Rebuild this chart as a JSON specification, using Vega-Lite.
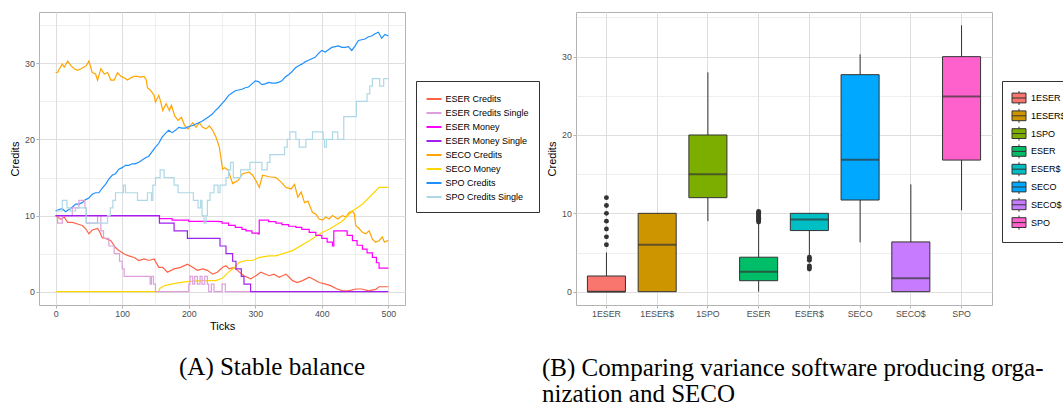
{
  "$schema": "https://vega.github.io/schema/vega-lite/v6.json",
  "padding": {"left": 8, "top": 11, "right": 0, "bottom": 0},
  "background": "white",
  "config": {
    "font": "Liberation Sans",
    "view": {"stroke": "#B3B3B3", "strokeWidth": 1},
    "axis": {"domain": false, "labelColor": "#4D4D4D", "labelFontSize": 8.8, "labelFont": "Liberation Sans", "titleFont": "Liberation Sans", "titleFontSize": 11, "titleFontWeight": "normal", "titleColor": "#000000", "tickColor": "#B3B3B3", "tickSize": 3, "gridColor": "#DEDEDE", "labelPadding": 1.7},
    "legend": {"labelFont": "Liberation Sans", "labelFontSize": 9, "labelColor": "#000000", "padding": 9.5, "strokeColor": "#333333", "fillColor": "#FFFFFF"},
    "title": {"font": "Liberation Serif", "fontSize": 25, "fontWeight": "normal", "color": "#000000", "anchor": "start", "orient": "bottom", "frame": "group", "baseline": "alphabetic", "lineHeight": 26}
  },
  "datasets": {
    "lines": [
      {"series":"ESER Credits","tick":0,"credits":10},{"series":"ESER Credits","tick":3,"credits":9.8},{"series":"ESER Credits","tick":8,"credits":9.5},{"series":"ESER Credits","tick":13,"credits":9.8},{"series":"ESER Credits","tick":18,"credits":9.1},{"series":"ESER Credits","tick":25,"credits":9.1},{"series":"ESER Credits","tick":33,"credits":8.9},{"series":"ESER Credits","tick":40,"credits":8.7},{"series":"ESER Credits","tick":45,"credits":8.3},{"series":"ESER Credits","tick":50,"credits":7.6},{"series":"ESER Credits","tick":55,"credits":8.1},{"series":"ESER Credits","tick":63,"credits":8.3},{"series":"ESER Credits","tick":66,"credits":7.9},{"series":"ESER Credits","tick":70,"credits":7.1},{"series":"ESER Credits","tick":78,"credits":6.9},{"series":"ESER Credits","tick":83,"credits":6.7},{"series":"ESER Credits","tick":90,"credits":5.8},{"series":"ESER Credits","tick":95,"credits":5.4},{"series":"ESER Credits","tick":103,"credits":4.95},{"series":"ESER Credits","tick":110,"credits":4.7},{"series":"ESER Credits","tick":118,"credits":4.5},{"series":"ESER Credits","tick":125,"credits":4.1},{"series":"ESER Credits","tick":133,"credits":4.3},{"series":"ESER Credits","tick":140,"credits":4.1},{"series":"ESER Credits","tick":148,"credits":4.3},{"series":"ESER Credits","tick":155,"credits":3.2},{"series":"ESER Credits","tick":161,"credits":3.2},{"series":"ESER Credits","tick":168,"credits":2.55},{"series":"ESER Credits","tick":178,"credits":3.0},{"series":"ESER Credits","tick":188,"credits":3.2},{"series":"ESER Credits","tick":198,"credits":3.6},{"series":"ESER Credits","tick":206,"credits":3.2},{"series":"ESER Credits","tick":213,"credits":2.8},{"series":"ESER Credits","tick":221,"credits":3.0},{"series":"ESER Credits","tick":228,"credits":2.8},{"series":"ESER Credits","tick":236,"credits":2.3},{"series":"ESER Credits","tick":243,"credits":2.55},{"series":"ESER Credits","tick":251,"credits":3.2},{"series":"ESER Credits","tick":256,"credits":3.4},{"series":"ESER Credits","tick":261,"credits":3.0},{"series":"ESER Credits","tick":268,"credits":3.2},{"series":"ESER Credits","tick":273,"credits":2.8},{"series":"ESER Credits","tick":283,"credits":2.1},{"series":"ESER Credits","tick":293,"credits":1.7},{"series":"ESER Credits","tick":301,"credits":2.1},{"series":"ESER Credits","tick":308,"credits":2.55},{"series":"ESER Credits","tick":321,"credits":2.1},{"series":"ESER Credits","tick":328,"credits":2.3},{"series":"ESER Credits","tick":336,"credits":1.9},{"series":"ESER Credits","tick":341,"credits":2.1},{"series":"ESER Credits","tick":346,"credits":2.3},{"series":"ESER Credits","tick":351,"credits":1.9},{"series":"ESER Credits","tick":356,"credits":1.45},{"series":"ESER Credits","tick":363,"credits":1.2},{"series":"ESER Credits","tick":371,"credits":1.45},{"series":"ESER Credits","tick":381,"credits":1.9},{"series":"ESER Credits","tick":386,"credits":1.7},{"series":"ESER Credits","tick":396,"credits":1.2},{"series":"ESER Credits","tick":406,"credits":1.0},{"series":"ESER Credits","tick":413,"credits":0.8},{"series":"ESER Credits","tick":423,"credits":0.35},{"series":"ESER Credits","tick":431,"credits":0.15},{"series":"ESER Credits","tick":440,"credits":0.1},{"series":"ESER Credits","tick":451,"credits":0.35},{"series":"ESER Credits","tick":460,"credits":0.35},{"series":"ESER Credits","tick":470,"credits":0.1},{"series":"ESER Credits","tick":481,"credits":0.3},{"series":"ESER Credits","tick":486,"credits":0.65},{"series":"ESER Credits","tick":500,"credits":0.65},

      {"series":"ESER Credits Single","tick":0,"credits":10},{"series":"ESER Credits Single","tick":3,"credits":9},{"series":"ESER Credits Single","tick":10,"credits":10},{"series":"ESER Credits Single","tick":25,"credits":11},{"series":"ESER Credits Single","tick":35,"credits":12},{"series":"ESER Credits Single","tick":44,"credits":11},{"series":"ESER Credits Single","tick":46,"credits":9},{"series":"ESER Credits Single","tick":63,"credits":10},{"series":"ESER Credits Single","tick":68,"credits":8},{"series":"ESER Credits Single","tick":72,"credits":7},{"series":"ESER Credits Single","tick":80,"credits":6},{"series":"ESER Credits Single","tick":88,"credits":5},{"series":"ESER Credits Single","tick":96,"credits":4},{"series":"ESER Credits Single","tick":100,"credits":3},{"series":"ESER Credits Single","tick":103,"credits":2},{"series":"ESER Credits Single","tick":140,"credits":2},{"series":"ESER Credits Single","tick":142,"credits":1},{"series":"ESER Credits Single","tick":144,"credits":2},{"series":"ESER Credits Single","tick":147,"credits":1},{"series":"ESER Credits Single","tick":150,"credits":0},{"series":"ESER Credits Single","tick":200,"credits":1},{"series":"ESER Credits Single","tick":202,"credits":2},{"series":"ESER Credits Single","tick":206,"credits":1},{"series":"ESER Credits Single","tick":209,"credits":2},{"series":"ESER Credits Single","tick":213,"credits":1},{"series":"ESER Credits Single","tick":217,"credits":2},{"series":"ESER Credits Single","tick":220,"credits":1},{"series":"ESER Credits Single","tick":224,"credits":2},{"series":"ESER Credits Single","tick":228,"credits":1},{"series":"ESER Credits Single","tick":230,"credits":0},{"series":"ESER Credits Single","tick":234,"credits":1},{"series":"ESER Credits Single","tick":238,"credits":0},{"series":"ESER Credits Single","tick":250,"credits":1},{"series":"ESER Credits Single","tick":255,"credits":0},{"series":"ESER Credits Single","tick":500,"credits":0},

      {"series":"ESER Money","tick":0,"credits":10},{"series":"ESER Money","tick":156,"credits":9.6},{"series":"ESER Money","tick":175,"credits":9.4},{"series":"ESER Money","tick":200,"credits":9.25},{"series":"ESER Money","tick":245,"credits":9.2},{"series":"ESER Money","tick":250,"credits":9.0},{"series":"ESER Money","tick":260,"credits":8.7},{"series":"ESER Money","tick":270,"credits":8.45},{"series":"ESER Money","tick":280,"credits":8.2},{"series":"ESER Money","tick":286,"credits":8.0},{"series":"ESER Money","tick":295,"credits":7.7},{"series":"ESER Money","tick":304,"credits":7.6},{"series":"ESER Money","tick":306,"credits":9.4},{"series":"ESER Money","tick":320,"credits":9.2},{"series":"ESER Money","tick":331,"credits":9.0},{"series":"ESER Money","tick":340,"credits":8.8},{"series":"ESER Money","tick":350,"credits":8.6},{"series":"ESER Money","tick":361,"credits":8.45},{"series":"ESER Money","tick":370,"credits":8.2},{"series":"ESER Money","tick":381,"credits":7.8},{"series":"ESER Money","tick":391,"credits":7.4},{"series":"ESER Money","tick":400,"credits":7.0},{"series":"ESER Money","tick":408,"credits":6.5},{"series":"ESER Money","tick":416,"credits":6.0},{"series":"ESER Money","tick":418,"credits":8.0},{"series":"ESER Money","tick":431,"credits":8.0},{"series":"ESER Money","tick":438,"credits":7.4},{"series":"ESER Money","tick":446,"credits":6.7},{"series":"ESER Money","tick":453,"credits":6.1},{"series":"ESER Money","tick":461,"credits":5.6},{"series":"ESER Money","tick":468,"credits":5.1},{"series":"ESER Money","tick":476,"credits":4.5},{"series":"ESER Money","tick":482,"credits":3.8},{"series":"ESER Money","tick":486,"credits":3.1},{"series":"ESER Money","tick":500,"credits":3.1},

      {"series":"ESER Money Single","tick":0,"credits":10},{"series":"ESER Money Single","tick":156,"credits":9},{"series":"ESER Money Single","tick":178,"credits":8},{"series":"ESER Money Single","tick":198,"credits":7},{"series":"ESER Money Single","tick":247,"credits":6},{"series":"ESER Money Single","tick":256,"credits":5},{"series":"ESER Money Single","tick":266,"credits":4},{"series":"ESER Money Single","tick":271,"credits":3},{"series":"ESER Money Single","tick":279,"credits":2},{"series":"ESER Money Single","tick":283,"credits":1},{"series":"ESER Money Single","tick":293,"credits":0},{"series":"ESER Money Single","tick":500,"credits":0},

      {"series":"SECO Credits","tick":0,"credits":28.8},{"series":"SECO Credits","tick":3,"credits":28.8},{"series":"SECO Credits","tick":5,"credits":29.2},{"series":"SECO Credits","tick":10,"credits":29.9},{"series":"SECO Credits","tick":13,"credits":29.5},{"series":"SECO Credits","tick":18,"credits":30.3},{"series":"SECO Credits","tick":23,"credits":29.7},{"series":"SECO Credits","tick":28,"credits":29.3},{"series":"SECO Credits","tick":33,"credits":29.1},{"series":"SECO Credits","tick":38,"credits":29.3},{"series":"SECO Credits","tick":42,"credits":29.5},{"series":"SECO Credits","tick":46,"credits":29.7},{"series":"SECO Credits","tick":50,"credits":30.3},{"series":"SECO Credits","tick":55,"credits":28.8},{"series":"SECO Credits","tick":60,"credits":28.6},{"series":"SECO Credits","tick":63,"credits":27.8},{"series":"SECO Credits","tick":68,"credits":29.3},{"series":"SECO Credits","tick":73,"credits":28.6},{"series":"SECO Credits","tick":78,"credits":28.8},{"series":"SECO Credits","tick":83,"credits":27.8},{"series":"SECO Credits","tick":88,"credits":27.8},{"series":"SECO Credits","tick":93,"credits":28.8},{"series":"SECO Credits","tick":98,"credits":28.3},{"series":"SECO Credits","tick":103,"credits":28.1},{"series":"SECO Credits","tick":108,"credits":27.8},{"series":"SECO Credits","tick":113,"credits":28.1},{"series":"SECO Credits","tick":118,"credits":28.3},{"series":"SECO Credits","tick":123,"credits":28.3},{"series":"SECO Credits","tick":128,"credits":28.2},{"series":"SECO Credits","tick":133,"credits":28.3},{"series":"SECO Credits","tick":136,"credits":27.9},{"series":"SECO Credits","tick":138,"credits":26.8},{"series":"SECO Credits","tick":143,"credits":26.4},{"series":"SECO Credits","tick":148,"credits":25.8},{"series":"SECO Credits","tick":150,"credits":24.9},{"series":"SECO Credits","tick":155,"credits":25.8},{"series":"SECO Credits","tick":158,"credits":24.9},{"series":"SECO Credits","tick":161,"credits":23.8},{"series":"SECO Credits","tick":166,"credits":24.7},{"series":"SECO Credits","tick":171,"credits":23.8},{"series":"SECO Credits","tick":174,"credits":24.5},{"series":"SECO Credits","tick":179,"credits":23.1},{"series":"SECO Credits","tick":184,"credits":22.5},{"series":"SECO Credits","tick":189,"credits":22.9},{"series":"SECO Credits","tick":194,"credits":21.8},{"series":"SECO Credits","tick":199,"credits":21.4},{"series":"SECO Credits","tick":206,"credits":22.2},{"series":"SECO Credits","tick":211,"credits":21.6},{"series":"SECO Credits","tick":216,"credits":22.2},{"series":"SECO Credits","tick":221,"credits":21.6},{"series":"SECO Credits","tick":226,"credits":21.4},{"series":"SECO Credits","tick":231,"credits":21.8},{"series":"SECO Credits","tick":236,"credits":21.2},{"series":"SECO Credits","tick":241,"credits":20.3},{"series":"SECO Credits","tick":246,"credits":19.0},{"series":"SECO Credits","tick":249,"credits":17.2},{"series":"SECO Credits","tick":251,"credits":16.1},{"series":"SECO Credits","tick":254,"credits":16.3},{"series":"SECO Credits","tick":259,"credits":16.0},{"series":"SECO Credits","tick":266,"credits":14.2},{"series":"SECO Credits","tick":274,"credits":14.6},{"series":"SECO Credits","tick":281,"credits":15.5},{"series":"SECO Credits","tick":291,"credits":15.7},{"series":"SECO Credits","tick":296,"credits":15.3},{"series":"SECO Credits","tick":301,"credits":14.6},{"series":"SECO Credits","tick":306,"credits":13.7},{"series":"SECO Credits","tick":311,"credits":15.3},{"series":"SECO Credits","tick":321,"credits":15.1},{"series":"SECO Credits","tick":331,"credits":15.0},{"series":"SECO Credits","tick":339,"credits":14.4},{"series":"SECO Credits","tick":346,"credits":13.7},{"series":"SECO Credits","tick":354,"credits":13.5},{"series":"SECO Credits","tick":359,"credits":14.1},{"series":"SECO Credits","tick":364,"credits":12.4},{"series":"SECO Credits","tick":369,"credits":13.1},{"series":"SECO Credits","tick":374,"credits":11.7},{"series":"SECO Credits","tick":379,"credits":11.9},{"series":"SECO Credits","tick":386,"credits":10.4},{"series":"SECO Credits","tick":391,"credits":10.2},{"series":"SECO Credits","tick":396,"credits":9.55},{"series":"SECO Credits","tick":401,"credits":9.4},{"series":"SECO Credits","tick":406,"credits":9.8},{"series":"SECO Credits","tick":411,"credits":9.55},{"series":"SECO Credits","tick":416,"credits":10.0},{"series":"SECO Credits","tick":424,"credits":9.55},{"series":"SECO Credits","tick":431,"credits":10.0},{"series":"SECO Credits","tick":436,"credits":9.8},{"series":"SECO Credits","tick":441,"credits":10.4},{"series":"SECO Credits","tick":446,"credits":10.6},{"series":"SECO Credits","tick":449,"credits":10.2},{"series":"SECO Credits","tick":451,"credits":8.7},{"series":"SECO Credits","tick":456,"credits":8.3},{"series":"SECO Credits","tick":461,"credits":7.8},{"series":"SECO Credits","tick":466,"credits":7.6},{"series":"SECO Credits","tick":471,"credits":8.0},{"series":"SECO Credits","tick":476,"credits":6.9},{"series":"SECO Credits","tick":481,"credits":6.5},{"series":"SECO Credits","tick":486,"credits":6.7},{"series":"SECO Credits","tick":491,"credits":7.2},{"series":"SECO Credits","tick":494,"credits":6.5},{"series":"SECO Credits","tick":499,"credits":6.7},{"series":"SECO Credits","tick":500,"credits":6.7},

      {"series":"SECO Money","tick":0,"credits":0},{"series":"SECO Money","tick":155,"credits":0},{"series":"SECO Money","tick":156,"credits":0.4},{"series":"SECO Money","tick":164,"credits":0.8},{"series":"SECO Money","tick":174,"credits":1.0},{"series":"SECO Money","tick":186,"credits":1.2},{"series":"SECO Money","tick":201,"credits":1.35},{"series":"SECO Money","tick":221,"credits":1.45},{"series":"SECO Money","tick":241,"credits":1.45},{"series":"SECO Money","tick":251,"credits":1.8},{"series":"SECO Money","tick":259,"credits":2.5},{"series":"SECO Money","tick":269,"credits":3.2},{"series":"SECO Money","tick":276,"credits":3.85},{"series":"SECO Money","tick":286,"credits":4.1},{"series":"SECO Money","tick":296,"credits":4.1},{"series":"SECO Money","tick":306,"credits":4.5},{"series":"SECO Money","tick":321,"credits":4.7},{"series":"SECO Money","tick":331,"credits":4.7},{"series":"SECO Money","tick":356,"credits":5.4},{"series":"SECO Money","tick":381,"credits":6.7},{"series":"SECO Money","tick":401,"credits":7.8},{"series":"SECO Money","tick":411,"credits":8.2},{"series":"SECO Money","tick":431,"credits":9.3},{"series":"SECO Money","tick":446,"credits":10.6},{"series":"SECO Money","tick":461,"credits":11.5},{"series":"SECO Money","tick":476,"credits":12.8},{"series":"SECO Money","tick":486,"credits":13.7},{"series":"SECO Money","tick":500,"credits":13.7},

      {"series":"SPO Credits","tick":0,"credits":10.6},{"series":"SPO Credits","tick":5,"credits":10.8},{"series":"SPO Credits","tick":10,"credits":10.9},{"series":"SPO Credits","tick":15,"credits":10.5},{"series":"SPO Credits","tick":20,"credits":10.8},{"series":"SPO Credits","tick":25,"credits":11.1},{"series":"SPO Credits","tick":30,"credits":11.5},{"series":"SPO Credits","tick":35,"credits":11.5},{"series":"SPO Credits","tick":40,"credits":11.7},{"series":"SPO Credits","tick":45,"credits":12.1},{"series":"SPO Credits","tick":50,"credits":12.3},{"series":"SPO Credits","tick":55,"credits":12.8},{"series":"SPO Credits","tick":60,"credits":13.0},{"series":"SPO Credits","tick":65,"credits":13.0},{"series":"SPO Credits","tick":70,"credits":13.6},{"series":"SPO Credits","tick":75,"credits":14.1},{"series":"SPO Credits","tick":80,"credits":14.8},{"series":"SPO Credits","tick":85,"credits":15.3},{"series":"SPO Credits","tick":90,"credits":15.5},{"series":"SPO Credits","tick":95,"credits":16.1},{"series":"SPO Credits","tick":100,"credits":16.3},{"series":"SPO Credits","tick":105,"credits":16.6},{"series":"SPO Credits","tick":110,"credits":16.6},{"series":"SPO Credits","tick":115,"credits":16.8},{"series":"SPO Credits","tick":120,"credits":16.8},{"series":"SPO Credits","tick":125,"credits":17.0},{"series":"SPO Credits","tick":130,"credits":17.3},{"series":"SPO Credits","tick":135,"credits":17.6},{"series":"SPO Credits","tick":140,"credits":17.8},{"series":"SPO Credits","tick":145,"credits":18.4},{"series":"SPO Credits","tick":150,"credits":19.0},{"series":"SPO Credits","tick":155,"credits":19.5},{"series":"SPO Credits","tick":160,"credits":20.3},{"series":"SPO Credits","tick":165,"credits":20.8},{"series":"SPO Credits","tick":170,"credits":21.2},{"series":"SPO Credits","tick":175,"credits":20.9},{"series":"SPO Credits","tick":180,"credits":21.2},{"series":"SPO Credits","tick":185,"credits":21.6},{"series":"SPO Credits","tick":190,"credits":21.5},{"series":"SPO Credits","tick":195,"credits":21.5},{"series":"SPO Credits","tick":200,"credits":21.7},{"series":"SPO Credits","tick":205,"credits":21.8},{"series":"SPO Credits","tick":210,"credits":22.0},{"series":"SPO Credits","tick":215,"credits":22.2},{"series":"SPO Credits","tick":220,"credits":22.4},{"series":"SPO Credits","tick":225,"credits":22.7},{"series":"SPO Credits","tick":230,"credits":23.0},{"series":"SPO Credits","tick":235,"credits":23.3},{"series":"SPO Credits","tick":240,"credits":23.8},{"series":"SPO Credits","tick":245,"credits":24.2},{"series":"SPO Credits","tick":250,"credits":24.7},{"series":"SPO Credits","tick":255,"credits":25.2},{"series":"SPO Credits","tick":260,"credits":25.8},{"series":"SPO Credits","tick":265,"credits":26.1},{"series":"SPO Credits","tick":270,"credits":26.4},{"series":"SPO Credits","tick":275,"credits":26.5},{"series":"SPO Credits","tick":280,"credits":26.6},{"series":"SPO Credits","tick":285,"credits":26.8},{"series":"SPO Credits","tick":290,"credits":26.9},{"series":"SPO Credits","tick":295,"credits":27.3},{"series":"SPO Credits","tick":300,"credits":27.7},{"series":"SPO Credits","tick":305,"credits":27.6},{"series":"SPO Credits","tick":310,"credits":27.2},{"series":"SPO Credits","tick":315,"credits":27.3},{"series":"SPO Credits","tick":320,"credits":27.5},{"series":"SPO Credits","tick":325,"credits":27.4},{"series":"SPO Credits","tick":330,"credits":27.4},{"series":"SPO Credits","tick":335,"credits":27.5},{"series":"SPO Credits","tick":340,"credits":27.7},{"series":"SPO Credits","tick":345,"credits":28.2},{"series":"SPO Credits","tick":350,"credits":28.5},{"series":"SPO Credits","tick":355,"credits":28.9},{"series":"SPO Credits","tick":360,"credits":29.4},{"series":"SPO Credits","tick":365,"credits":29.7},{"series":"SPO Credits","tick":370,"credits":29.9},{"series":"SPO Credits","tick":375,"credits":30.2},{"series":"SPO Credits","tick":380,"credits":30.4},{"series":"SPO Credits","tick":385,"credits":30.6},{"series":"SPO Credits","tick":390,"credits":30.8},{"series":"SPO Credits","tick":395,"credits":31.3},{"series":"SPO Credits","tick":400,"credits":31.7},{"series":"SPO Credits","tick":405,"credits":31.5},{"series":"SPO Credits","tick":410,"credits":31.8},{"series":"SPO Credits","tick":415,"credits":32.1},{"series":"SPO Credits","tick":420,"credits":32.2},{"series":"SPO Credits","tick":425,"credits":32.3},{"series":"SPO Credits","tick":430,"credits":32.1},{"series":"SPO Credits","tick":435,"credits":32.1},{"series":"SPO Credits","tick":440,"credits":32.2},{"series":"SPO Credits","tick":445,"credits":31.7},{"series":"SPO Credits","tick":450,"credits":32.3},{"series":"SPO Credits","tick":455,"credits":33.0},{"series":"SPO Credits","tick":460,"credits":33.1},{"series":"SPO Credits","tick":465,"credits":33.2},{"series":"SPO Credits","tick":470,"credits":33.5},{"series":"SPO Credits","tick":475,"credits":33.6},{"series":"SPO Credits","tick":480,"credits":33.9},{"series":"SPO Credits","tick":485,"credits":34.1},{"series":"SPO Credits","tick":490,"credits":33.3},{"series":"SPO Credits","tick":495,"credits":33.8},{"series":"SPO Credits","tick":500,"credits":33.6},

      {"series":"SPO Credits Single","tick":0,"credits":10.6},{"series":"SPO Credits Single","tick":10,"credits":12},{"series":"SPO Credits Single","tick":17,"credits":11},{"series":"SPO Credits Single","tick":22,"credits":10.6},{"series":"SPO Credits Single","tick":30,"credits":11},{"series":"SPO Credits Single","tick":46,"credits":9},{"series":"SPO Credits Single","tick":78,"credits":10},{"series":"SPO Credits Single","tick":82,"credits":11},{"series":"SPO Credits Single","tick":86,"credits":12},{"series":"SPO Credits Single","tick":90,"credits":13},{"series":"SPO Credits Single","tick":102,"credits":14},{"series":"SPO Credits Single","tick":105,"credits":13},{"series":"SPO Credits Single","tick":123,"credits":12},{"series":"SPO Credits Single","tick":138,"credits":13},{"series":"SPO Credits Single","tick":144,"credits":12},{"series":"SPO Credits Single","tick":146,"credits":14},{"series":"SPO Credits Single","tick":150,"credits":15},{"series":"SPO Credits Single","tick":157,"credits":16},{"series":"SPO Credits Single","tick":163,"credits":15},{"series":"SPO Credits Single","tick":178,"credits":14},{"series":"SPO Credits Single","tick":184,"credits":13},{"series":"SPO Credits Single","tick":207,"credits":12},{"series":"SPO Credits Single","tick":214,"credits":11},{"series":"SPO Credits Single","tick":218,"credits":12},{"series":"SPO Credits Single","tick":220,"credits":10},{"series":"SPO Credits Single","tick":223,"credits":9},{"series":"SPO Credits Single","tick":226,"credits":10},{"series":"SPO Credits Single","tick":228,"credits":12},{"series":"SPO Credits Single","tick":232,"credits":13},{"series":"SPO Credits Single","tick":238,"credits":14},{"series":"SPO Credits Single","tick":244,"credits":13},{"series":"SPO Credits Single","tick":247,"credits":14},{"series":"SPO Credits Single","tick":256,"credits":15},{"series":"SPO Credits Single","tick":260,"credits":16},{"series":"SPO Credits Single","tick":263,"credits":17},{"series":"SPO Credits Single","tick":267,"credits":15},{"series":"SPO Credits Single","tick":278,"credits":16},{"series":"SPO Credits Single","tick":292,"credits":17},{"series":"SPO Credits Single","tick":310,"credits":16},{"series":"SPO Credits Single","tick":318,"credits":17},{"series":"SPO Credits Single","tick":322,"credits":18},{"series":"SPO Credits Single","tick":344,"credits":19},{"series":"SPO Credits Single","tick":348,"credits":20},{"series":"SPO Credits Single","tick":352,"credits":21},{"series":"SPO Credits Single","tick":361,"credits":20},{"series":"SPO Credits Single","tick":366,"credits":19},{"series":"SPO Credits Single","tick":376,"credits":20},{"series":"SPO Credits Single","tick":386,"credits":21},{"series":"SPO Credits Single","tick":402,"credits":20},{"series":"SPO Credits Single","tick":404,"credits":19},{"series":"SPO Credits Single","tick":407,"credits":20},{"series":"SPO Credits Single","tick":416,"credits":21},{"series":"SPO Credits Single","tick":424,"credits":20},{"series":"SPO Credits Single","tick":433,"credits":23},{"series":"SPO Credits Single","tick":452,"credits":25},{"series":"SPO Credits Single","tick":468,"credits":26},{"series":"SPO Credits Single","tick":472,"credits":27},{"series":"SPO Credits Single","tick":476,"credits":28},{"series":"SPO Credits Single","tick":487,"credits":27},{"series":"SPO Credits Single","tick":493,"credits":28},{"series":"SPO Credits Single","tick":500,"credits":28}
    ],
    "boxes": [
      {"group":"1ESER","lower":0,"q1":0,"median":0,"q3":2.0,"upper":5.0},
      {"group":"1ESER$","lower":0,"q1":0,"median":6.0,"q3":10.0,"upper":10.0},
      {"group":"1SPO","lower":9.0,"q1":12.0,"median":15.0,"q3":20.0,"upper":28.0},
      {"group":"ESER","lower":0,"q1":1.4,"median":2.55,"q3":4.4,"upper":8.85},
      {"group":"ESER$","lower":4.6,"q1":7.8,"median":9.22,"q3":10.0,"upper":10.0},
      {"group":"SECO","lower":6.3,"q1":11.7,"median":16.85,"q3":27.7,"upper":30.3},
      {"group":"SECO$","lower":0,"q1":0,"median":1.7,"q3":6.35,"upper":13.7},
      {"group":"SPO","lower":10.4,"q1":16.8,"median":24.9,"q3":30.0,"upper":34.0}
    ],
    "outliers": [
      {"group":"1ESER","credits":6},{"group":"1ESER","credits":7},{"group":"1ESER","credits":8},{"group":"1ESER","credits":9},{"group":"1ESER","credits":10},{"group":"1ESER","credits":11},{"group":"1ESER","credits":12},
      {"group":"ESER","credits":8.9},{"group":"ESER","credits":9.05},{"group":"ESER","credits":9.2},{"group":"ESER","credits":9.35},{"group":"ESER","credits":9.5},{"group":"ESER","credits":9.65},{"group":"ESER","credits":9.8},{"group":"ESER","credits":9.95},{"group":"ESER","credits":10.1},{"group":"ESER","credits":10.25},
      {"group":"ESER$","credits":4.4},{"group":"ESER$","credits":4.2},{"group":"ESER$","credits":4.0},{"group":"ESER$","credits":3.3},{"group":"ESER$","credits":3.1},{"group":"ESER$","credits":2.9}
    ]
  },
  "bounds": "flush",
  "spacing": 171,
  "resolve": {"scale": {"x": "independent", "y": "independent", "color": "independent"}},
  "hconcat": [
    {
      "width": 366,
      "height": 293,
      "title": {"text": "(A) Stable balance", "dx": 140, "offset": 23},
      "data": {"name": "lines"},
      "encoding": {
        "x": {"field": "tick", "type": "quantitative", "scale": {"domain": [-25, 525], "nice": false, "zero": false},
          "axis": {"title": "Ticks", "titlePadding": 2, "values": [0,50,100,150,200,250,300,350,400,450,500],
            "labelExpr": "datum.value % 100 === 0 ? datum.label : ''",
            "gridWidth": {"condition": {"test": "datum.value % 100 === 0", "value": 1}, "value": 0.5},
            "tickOpacity": {"condition": {"test": "datum.value % 100 === 0", "value": 1}, "value": 0}}},
        "y": {"field": "credits", "type": "quantitative", "scale": {"domain": [-1.75, 36.75], "nice": false, "zero": false},
          "axis": {"title": "Credits", "titlePadding": 4.3, "values": [0,5,10,15,20,25,30,35],
            "labelExpr": "datum.value % 10 === 0 ? datum.label : ''",
            "gridWidth": {"condition": {"test": "datum.value % 10 === 0", "value": 1}, "value": 0.5},
            "tickOpacity": {"condition": {"test": "datum.value % 10 === 0", "value": 1}, "value": 0}}},
        "color": {"field": "series", "type": "nominal",
          "scale": {"domain": ["ESER Credits","ESER Credits Single","ESER Money","ESER Money Single","SECO Credits","SECO Money","SPO Credits","SPO Credits Single"],
            "range": ["#FF6347","#DDA0DD","#FF00FF","#A020F0","#FFA500","#FFD700","#1E90FF","#ADD8E6"]},
          "legend": {"title": null, "orient": "none", "legendX": 377, "legendY": 69, "symbolType": "stroke", "symbolSize": 225, "symbolStrokeWidth": 2, "rowPadding": 0, "labelOffset": 3}}
      },
      "layer": [
        {"transform": [{"filter": {"field": "series", "oneOf": ["ESER Credits","SECO Credits","SECO Money","SPO Credits"]}}],
         "mark": {"type": "line", "strokeWidth": 1.2, "interpolate": "linear"}},
        {"transform": [{"filter": {"field": "series", "oneOf": ["ESER Credits Single","ESER Money","ESER Money Single","SPO Credits Single"]}}],
         "mark": {"type": "line", "strokeWidth": 1.2, "interpolate": "step-after"}}
      ]
    },
    {
      "width": 416,
      "height": 293,
      "title": {"text": ["(B) Comparing variance software producing orga-", "nization and SECO"], "dx": -34, "offset": 37},
      "encoding": {
        "x": {"field": "group", "type": "nominal",
          "scale": {"domain": ["1ESER","1ESER$","1SPO","ESER","ESER$","SECO","SECO$","SPO"], "paddingInner": 0, "paddingOuter": 0.1},
          "axis": {"title": null, "labelAngle": 0, "bandPosition": 0.5, "grid": true, "gridWidth": 1}}
      },
      "layer": [
        {"data": {"name": "boxes"},
         "mark": {"type": "rule", "color": "#333333", "strokeWidth": 1},
         "encoding": {
           "y": {"field": "lower", "type": "quantitative", "scale": {"domain": [-1.7, 35.7], "nice": false, "zero": false},
             "axis": {"title": "Credits", "titlePadding": 4.3, "values": [0,5,10,15,20,25,30,35],
               "labelExpr": "datum.value % 10 === 0 ? datum.label : ''",
               "gridWidth": {"condition": {"test": "datum.value % 10 === 0", "value": 1}, "value": 0.5},
               "tickOpacity": {"condition": {"test": "datum.value % 10 === 0", "value": 1}, "value": 0}}},
           "y2": {"field": "upper"}}},
        {"data": {"name": "boxes"},
         "mark": {"type": "bar", "stroke": "#333333", "strokeWidth": 1, "width": {"band": 0.75}},
         "encoding": {
           "y": {"field": "q1", "type": "quantitative"},
           "y2": {"field": "q3"},
           "fill": {"field": "group", "type": "nominal",
             "scale": {"domain": ["1ESER","1ESER$","1SPO","ESER","ESER$","SECO","SECO$","SPO"],
               "range": ["#F8766D","#CD9600","#7CAE00","#00BE67","#00BFC4","#00A9FF","#C77CFF","#FF61CC"]},
             "legend": {"title": null, "orient": "none", "legendX": 963, "legendY": 69,
               "symbolType": "M-1,-0.7H1V0.7H-1Z M-1,0H1 M0,-1V-0.7 M0,0.7V1", "symbolSize": 196,
               "symbolStrokeColor": "#333333", "symbolStrokeWidth": 1, "rowPadding": -1.2, "labelOffset": 4.5}}}},
        {"data": {"name": "boxes"},
         "mark": {"type": "tick", "color": "#333333", "thickness": 2, "size": 38},
         "encoding": {"y": {"field": "median", "type": "quantitative"}}},
        {"data": {"name": "outliers"},
         "mark": {"type": "circle", "color": "#333333", "opacity": 1, "size": 24},
         "encoding": {"y": {"field": "credits", "type": "quantitative"}}}
      ]
    }
  ]
}
